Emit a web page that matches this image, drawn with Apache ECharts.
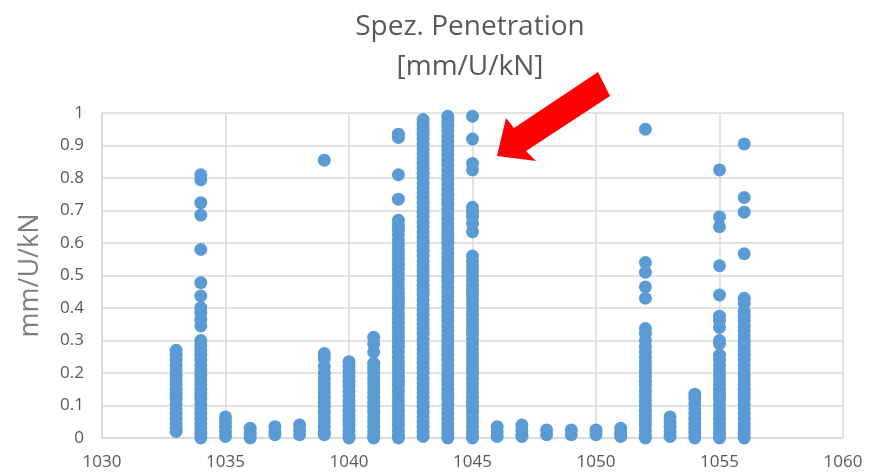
<!DOCTYPE html>
<html>
<head>
<meta charset="utf-8">
<script src="https://cdn.jsdelivr.net/npm/echarts@6/dist/echarts.min.js"></script>
<style>
html, body { margin: 0; padding: 0; background: #fff; }
#chart { width: 874px; height: 476px; }
</style>
</head>
<body>
<div id="chart"></div>
<script>
// Messpunkte je Position (x)
var positions = [1033, 1034, 1035, 1036, 1037, 1038, 1039, 1040, 1041, 1042, 1043, 1044,
    1045, 1046, 1047, 1048, 1049, 1050, 1051, 1052, 1053, 1054, 1055, 1056];

var values = [
    // 1033
    [0.27, 0.255, 0.24, 0.225, 0.21, 0.195, 0.18, 0.165, 0.15, 0.135, 0.12, 0.105, 0.09, 0.075,
        0.06, 0.045, 0.03, 0.02],
    // 1034
    [0.81, 0.795, 0.724, 0.686, 0.58, 0.478, 0.437, 0.401, 0.386, 0.365, 0.345, 0.3, 0.285, 0.27,
        0.255, 0.24, 0.225, 0.21, 0.195, 0.18, 0.165, 0.15, 0.135, 0.12, 0.105, 0.09, 0.075, 0.06,
        0.045, 0.03, 0.015, 0.0],
    // 1035
    [0.065, 0.05, 0.035, 0.02, 0.005],
    // 1036
    [0.03, 0.015, 0.0],
    // 1037
    [0.035, 0.02, 0.01],
    // 1038
    [0.04, 0.025, 0.01],
    // 1039
    [0.855, 0.26, 0.245, 0.22, 0.2, 0.185, 0.17, 0.155, 0.14, 0.125, 0.11, 0.095, 0.08, 0.065,
        0.05, 0.035, 0.02, 0.01],
    // 1040
    [0.235, 0.22, 0.205, 0.19, 0.175, 0.16, 0.145, 0.13, 0.115, 0.1, 0.085, 0.07, 0.055, 0.04,
        0.025, 0.01, 0.0],
    // 1041
    [0.31, 0.29, 0.265, 0.23, 0.215, 0.2, 0.185, 0.17, 0.155, 0.14, 0.125, 0.11, 0.095, 0.08,
        0.065, 0.05, 0.035, 0.02, 0.005, 0.0],
    // 1042
    [0.935, 0.925, 0.81, 0.735, 0.67, 0.655, 0.64, 0.625, 0.61, 0.595, 0.58, 0.565, 0.55, 0.535,
        0.52, 0.505, 0.49, 0.475, 0.46, 0.445, 0.43, 0.415, 0.4, 0.385, 0.37, 0.355, 0.34, 0.325,
        0.31, 0.295, 0.28, 0.265, 0.25, 0.235, 0.22, 0.205, 0.19, 0.175, 0.16, 0.145, 0.13, 0.115,
        0.1, 0.085, 0.07, 0.055, 0.04, 0.025, 0.01, 0.0],
    // 1043
    [0.98, 0.965, 0.95, 0.935, 0.92, 0.905, 0.89, 0.875, 0.86, 0.845, 0.83, 0.815, 0.8, 0.785,
        0.77, 0.755, 0.74, 0.725, 0.71, 0.695, 0.68, 0.665, 0.65, 0.635, 0.62, 0.605, 0.59, 0.575,
        0.56, 0.545, 0.53, 0.515, 0.5, 0.485, 0.47, 0.455, 0.44, 0.425, 0.41, 0.395, 0.38, 0.365,
        0.35, 0.335, 0.32, 0.305, 0.29, 0.275, 0.26, 0.245, 0.23, 0.215, 0.2, 0.185, 0.17, 0.155,
        0.14, 0.125, 0.11, 0.095, 0.08, 0.065, 0.05, 0.035, 0.02, 0.005],
    // 1044
    [0.99, 0.975, 0.96, 0.945, 0.93, 0.915, 0.9, 0.885, 0.87, 0.855, 0.84, 0.825, 0.81, 0.795,
        0.78, 0.765, 0.75, 0.735, 0.72, 0.705, 0.69, 0.675, 0.66, 0.645, 0.63, 0.615, 0.6, 0.585,
        0.57, 0.555, 0.54, 0.525, 0.51, 0.495, 0.48, 0.465, 0.45, 0.435, 0.42, 0.405, 0.39, 0.375,
        0.36, 0.345, 0.33, 0.315, 0.3, 0.285, 0.27, 0.255, 0.24, 0.225, 0.21, 0.195, 0.18, 0.165,
        0.15, 0.135, 0.12, 0.105, 0.09, 0.075, 0.06, 0.045, 0.03, 0.015, 0.0],
    // 1045
    [0.99, 0.92, 0.845, 0.825, 0.71, 0.695, 0.68, 0.66, 0.635, 0.56, 0.545, 0.53, 0.515, 0.5,
        0.485, 0.47, 0.455, 0.44, 0.425, 0.41, 0.395, 0.38, 0.365, 0.35, 0.335, 0.32, 0.305, 0.29,
        0.275, 0.26, 0.245, 0.23, 0.215, 0.2, 0.185, 0.17, 0.155, 0.14, 0.125, 0.11, 0.095, 0.08,
        0.065, 0.05, 0.035, 0.02, 0.005, 0.0],
    // 1046
    [0.035, 0.02, 0.005],
    // 1047
    [0.04, 0.025, 0.01, 0.005],
    // 1048
    [0.025, 0.01],
    // 1049
    [0.025, 0.01],
    // 1050
    [0.025, 0.01],
    // 1051
    [0.03, 0.015, 0.005],
    // 1052
    [0.95, 0.54, 0.51, 0.465, 0.43, 0.337, 0.322, 0.3, 0.28, 0.265, 0.25, 0.235, 0.22, 0.205,
        0.19, 0.175, 0.16, 0.145, 0.13, 0.115, 0.1, 0.085, 0.07, 0.055, 0.04, 0.025, 0.01, 0.0],
    // 1053
    [0.065, 0.05, 0.035, 0.02, 0.005],
    // 1054
    [0.135, 0.12, 0.105, 0.09, 0.075, 0.06, 0.045, 0.03, 0.015, 0.0],
    // 1055
    [0.825, 0.68, 0.65, 0.53, 0.44, 0.375, 0.36, 0.34, 0.3, 0.29, 0.255, 0.24, 0.225, 0.21, 0.195,
        0.18, 0.165, 0.15, 0.135, 0.12, 0.105, 0.09, 0.075, 0.06, 0.045, 0.03, 0.015, 0.0],
    // 1056
    [0.905, 0.74, 0.695, 0.567, 0.43, 0.415, 0.39, 0.375, 0.36, 0.345, 0.33, 0.315, 0.3, 0.285,
        0.27, 0.255, 0.24, 0.225, 0.21, 0.195, 0.18, 0.165, 0.15, 0.135, 0.12, 0.105, 0.09, 0.075,
        0.06, 0.045, 0.03, 0.015, 0.0]
];

var points = [];
for (var i = 0; i < positions.length; i++) {
    for (var j = 0; j < values[i].length; j++) {
        points.push([positions[i], values[i][j]]);
    }
}

var textGrey = '#595959';
var lineGrey = '#d9d9d9';
var font = "'Open Sans', sans-serif";

var myChart = echarts.init(document.getElementById('chart'));
var option = {
    animation: false,
    title: {
        text: 'Spez. Penetration\n[mm/U/kN]',
        left: 465,
        top: 2,
        textAlign: 'center',
        textStyle: {
            color: textGrey,
            fontFamily: font,
            fontWeight: 'normal',
            fontSize: 28,
            lineHeight: 40
        }
    },
    grid: {
        left: 102,
        right: 31,
        top: 113,
        bottom: 38
    },
    xAxis: {
        type: 'value',
        min: 1030,
        max: 1060,
        interval: 5,
        axisLine: { show: true, lineStyle: { color: lineGrey, width: 1.5 } },
        axisTick: { show: false },
        axisLabel: {
            color: textGrey, fontFamily: font, fontSize: 17, margin: 16,
            formatter: function (v) { return String(v); }
        },
        splitLine: { show: true, lineStyle: { color: lineGrey, width: 1.5 } }
    },
    yAxis: {
        type: 'value',
        min: 0,
        max: 1,
        interval: 0.1,
        name: 'mm/U/kN',
        nameLocation: 'middle',
        nameGap: 58,
        nameTextStyle: { color: '#7f7f7f', fontFamily: font, fontSize: 27 },
        axisLine: { show: true, lineStyle: { color: lineGrey, width: 1.5 } },
        axisTick: { show: false },
        axisLabel: { color: textGrey, fontFamily: font, fontSize: 17, margin: 18 },
        splitLine: { show: true, lineStyle: { color: lineGrey, width: 1.5 } }
    },
    series: [{
        type: 'scatter',
        symbol: 'circle',
        symbolSize: 13,
        data: points,
        itemStyle: { color: '#5b9bd5', opacity: 1 }
    }],
    graphic: [{
        type: 'polygon',
        z: 100,
        shape: {
            points: [[497, 156], [506, 118], [514, 128], [598, 72], [610, 96], [526, 151], [536, 161]]
        },
        style: { fill: '#ff0000' }
    }]
};
myChart.setOption(option);
</script>
</body>
</html>
